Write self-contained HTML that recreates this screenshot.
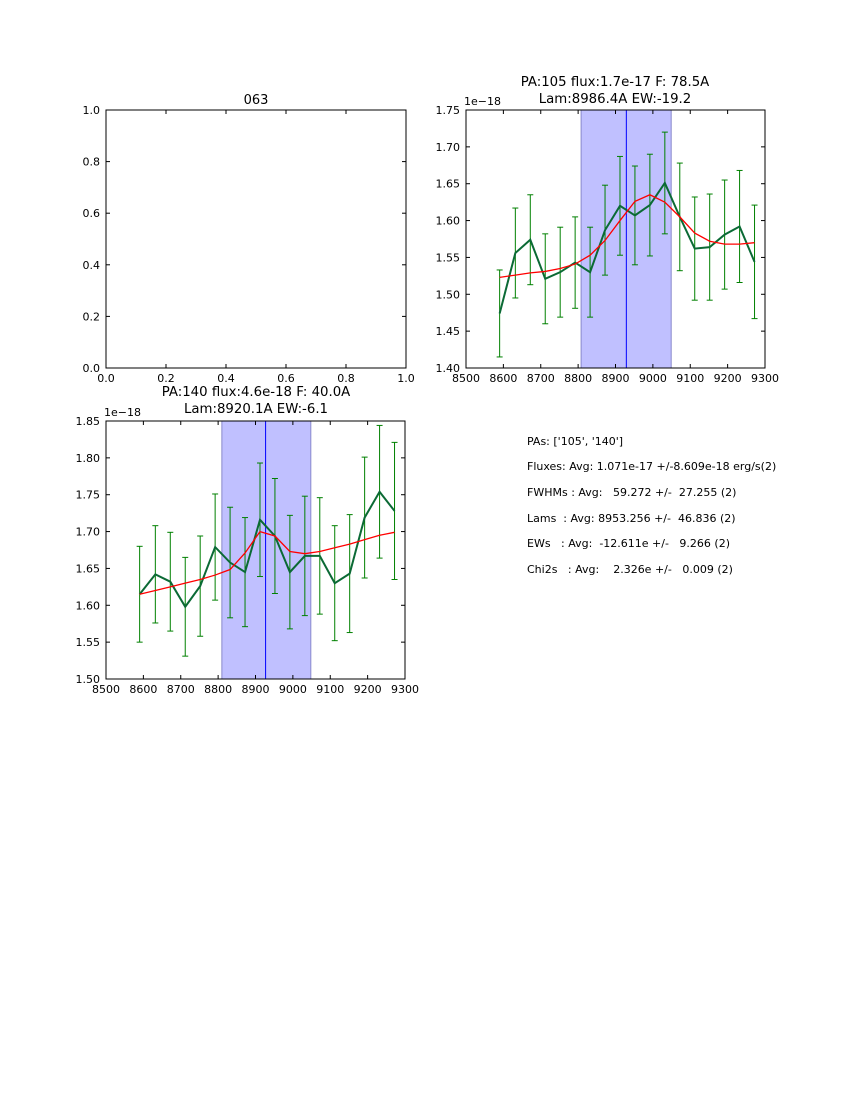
<!DOCTYPE html>
<html><head><meta charset="utf-8">
<style>
body{margin:0;background:#fff;width:850px;height:1100px;overflow:hidden;font-family:"DejaVu Sans","Liberation Sans",sans-serif;}
svg text{font-family:"DejaVu Sans","Liberation Sans",sans-serif;}
</style></head>
<body>
<svg id="fig" width="850" height="1100">
<text x="256" y="104" font-size="13" text-anchor="middle">063</text>
<text x="615" y="86" font-size="13.3" text-anchor="middle">PA:105 flux:1.7e-17 F: 78.5A</text>
<text x="615" y="103" font-size="13.3" text-anchor="middle">Lam:8986.4A EW:-19.2</text>
<text x="256" y="396" font-size="13.3" text-anchor="middle">PA:140 flux:4.6e-18 F: 40.0A</text>
<text x="256" y="413" font-size="13.3" text-anchor="middle">Lam:8920.1A EW:-6.1</text>
<g font-size="11" style="white-space:pre">
<text x="527" y="445" xml:space="preserve">PAs: ['105', '140']</text>
<text x="527" y="470" xml:space="preserve">Fluxes: Avg: 1.071e-17 +/-8.609e-18 erg/s(2)</text>
<text x="527" y="496" xml:space="preserve">FWHMs : Avg:   59.272 +/-  27.255 (2)</text>
<text x="527" y="522" xml:space="preserve">Lams  : Avg: 8953.256 +/-  46.836 (2)</text>
<text x="527" y="547" xml:space="preserve">EWs   : Avg:  -12.611e +/-   9.266 (2)</text>
<text x="527" y="573" xml:space="preserve">Chi2s   : Avg:    2.326e +/-   0.009 (2)</text>
</g>
</svg>
<script>
const NS="http://www.w3.org/2000/svg";
const svg=document.getElementById('fig');
const waves=[8590,8632,8672,8712,8752,8792,8832,8872,8912,8952,8992,9032,9072,9112,9152,9192,9232,9272];
const flux105=[1.474,1.556,1.574,1.521,1.530,1.543,1.530,1.587,1.620,1.607,1.621,1.651,1.605,1.562,1.564,1.581,1.592,1.544];
const err105=[0.059,0.061,0.061,0.061,0.061,0.062,0.061,0.061,0.067,0.067,0.069,0.069,0.073,0.070,0.072,0.074,0.076,0.077];
const fit105=[1.523,1.526,1.529,1.531,1.535,1.541,1.553,1.573,1.600,1.626,1.635,1.625,1.605,1.583,1.572,1.568,1.568,1.570];
const flux140=[1.615,1.642,1.632,1.598,1.626,1.679,1.658,1.645,1.716,1.694,1.645,1.667,1.667,1.630,1.643,1.719,1.754,1.728];
const err140=[0.065,0.066,0.067,0.067,0.068,0.072,0.075,0.074,0.077,0.078,0.077,0.081,0.079,0.078,0.080,0.082,0.090,0.093];
const fit140=[1.615,1.620,1.625,1.630,1.635,1.641,1.6485,1.671,1.700,1.694,1.673,1.670,1.673,1.678,1.683,1.689,1.695,1.699];
const xTicks=[8500,8600,8700,8800,8900,9000,9100,9200,9300];
const yTicks105=[1.40,1.45,1.50,1.55,1.60,1.65,1.70,1.75];
const yTicks140=[1.50,1.55,1.60,1.65,1.70,1.75,1.80,1.85];
const unitTicks=[0,0.2,0.4,0.6,0.8,1.0];
const band105=[8808,9049], line105=8929;
const band140=[8810,9048], line140=8927;

function el(tag,attrs,parent){const e=document.createElementNS(NS,tag);for(const k in attrs)e.setAttribute(k,attrs[k]);(parent||svg).appendChild(e);return e;}

function axes(name,L,T,W,H,xmin,xmax,ymin,ymax,xt,yt,xfmt,yfmt){
  const g=el('g',{});
  
  
  const sx=v=>L+(v-xmin)/(xmax-xmin)*W, sy=v=>T+H-(v-ymin)/(ymax-ymin)*H;
  return {g,sx,sy,L,T,W,H,xt,yt,xfmt,yfmt};
}
function frame(a){
  const {g,sx,sy,L,T,W,H}=a;
  const r=el('rect',{x:L,y:T,width:W,height:H,fill:'none',stroke:'#000','stroke-width':1},g);
  
  
  a.xt.forEach(v=>{const x=sx(v);
    el('line',{x1:x,y1:T+H,x2:x,y2:T+H-4,stroke:'#000'},g);
    el('line',{x1:x,y1:T,x2:x,y2:T+4,stroke:'#000'},g);
    const t=el('text',{x:x,y:T+H+14,'font-size':11,'text-anchor':'middle'},g);t.textContent=a.xfmt(v);
    
    
  });
  a.yt.forEach(v=>{const y=sy(v);
    el('line',{x1:L,y1:y,x2:L+4,y2:y,stroke:'#000'},g);
    el('line',{x1:L+W,y1:y,x2:L+W-4,y2:y,stroke:'#000'},g);
    const t=el('text',{x:L-6,y:y+4,'font-size':11,'text-anchor':'end'},g);t.textContent=a.yfmt(v);
    
    
  });
}
function dataPanel(name,L,T,ymin,ymax,yt,flux,err,fit,band,cl){
  const a=axes(name,L,T,299,258,8500,9300,ymin,ymax,xTicks,yt,v=>String(v),v=>v.toFixed(2));
  const {g,sx,sy}=a;
  const b=el('rect',{x:sx(band[0]),y:T,width:sx(band[1])-sx(band[0]),height:258,fill:'#c0c0ff',stroke:'#8888cc','stroke-width':1},g);
  
  
  const c=el('line',{x1:sx(cl),y1:T,x2:sx(cl),y2:T+258,stroke:'#0000ff','stroke-width':1},g);
  
  
  waves.forEach((w,i)=>{const x=sx(w),y1=sy(flux[i]+err[i]),y2=sy(flux[i]-err[i]);
    const e=el('g',{stroke:'#008000','stroke-width':1},g);
    
    
    el('line',{x1:x,y1:y1,x2:x,y2:y2},e);
    el('line',{x1:x-3,y1:y1,x2:x+3,y2:y1},e);
    el('line',{x1:x-3,y1:y2,x2:x+3,y2:y2},e);
  });
  const p=el('polyline',{points:waves.map((w,i)=>sx(w)+','+sy(flux[i])).join(' '),fill:'none',stroke:'#0b6a35','stroke-width':2},g);
  
  
  const f=el('polyline',{points:waves.map((w,i)=>sx(w)+','+sy(fit[i])).join(' '),fill:'none',stroke:'#ff0000','stroke-width':1.3},g);
  
  
  frame(a);
  const o=el('text',{x:L-2,y:T-5,'font-size':11},g);o.textContent='1e\u221218';
  
  
}
const e0=axes('empty-panel',106,110,300,258,0,1,0,1,unitTicks,unitTicks,v=>v.toFixed(1),v=>v.toFixed(1));
frame(e0);
dataPanel('pa105-panel',466,110,1.40,1.75,yTicks105,flux105,err105,fit105,band105,line105);
dataPanel('pa140-panel',106,421,1.50,1.85,yTicks140,flux140,err140,fit140,band140,line140);
</script>
</body></html>
